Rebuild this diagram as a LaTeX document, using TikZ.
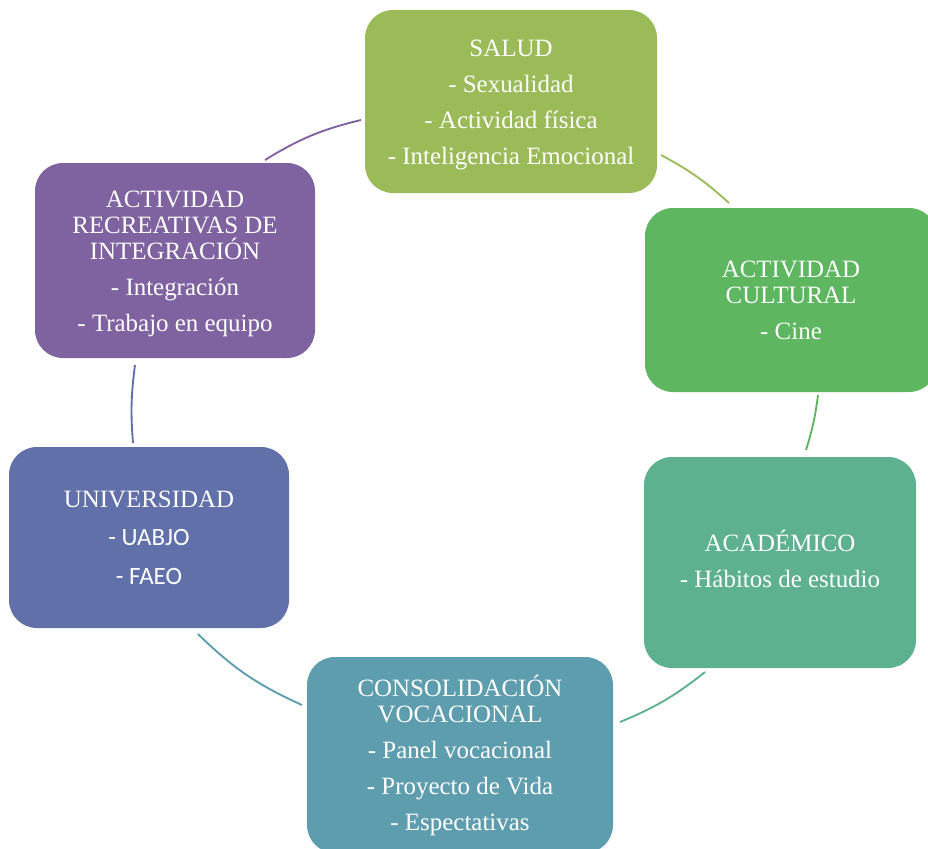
\documentclass[tikz,border=0pt]{standalone}
\usepackage{fontspec}
\setmainfont{Liberation Serif}
\newfontfamily\calibri{Carlito}
\usepackage{tikz}
\usetikzlibrary{positioning}

\definecolor{cSalud}{HTML}{9BBB59}
\definecolor{cCultural}{HTML}{5EB660}
\definecolor{cAcademico}{HTML}{5DB18E}
\definecolor{cConsol}{HTML}{5E9DAD}
\definecolor{cUniv}{HTML}{6170A9}
\definecolor{cRecre}{HTML}{7F63A1}

\begin{document}
\begin{tikzpicture}[x=0.75pt, y=-0.75pt,
    box/.style={fill=#1, rounded corners=21pt, inner sep=0pt, align=center,
      text=white, font=\fontsize{18.7}{19.5}\selectfont},
    link/.style={draw=#1, line width=1.4pt}]
    \clip (0,0) rectangle (928,849);
    % the six boxes of the cycle
    \node[box=cSalud, minimum width=219pt, minimum height=137.25pt] (salud) at (511,101.5)
      {\rule{0pt}{17.5pt}SALUD\\[7.5pt] - Sexualidad\\[7.5pt] - Actividad física\\[7.5pt] - Inteligencia Emocional};
    \node[box=cCultural, minimum width=219pt, minimum height=138pt] (cultural) at (791,300)
      {ACTIVIDAD\\ CULTURAL\\[7.5pt] - Cine};
    \node[box=cAcademico, minimum width=204pt, minimum height=158.25pt] (academico) at (780,562.5)
      {ACADÉMICO\\[7.5pt] - Hábitos de estudio\rule[-6pt]{0pt}{1pt}};
    \node[box=cConsol, minimum width=229.5pt, minimum height=147pt] (consol) at (460,755)
      {CONSOLIDACIÓN\\ VOCACIONAL\\[7.5pt] - Panel vocacional\\[7.5pt] - Proyecto de Vida\\[7.5pt] - Espectativas};
    \node[box=cUniv, minimum width=210pt, minimum height=135.75pt] (univ) at (149,537.5)
      {UNIVERSIDAD\\[9pt] {\calibri - UABJO}\\[9.75pt] {\calibri - FAEO}};
    \node[box=cRecre, minimum width=210pt, minimum height=146.25pt] (recre) at (175,260.5)
      {\rule{0pt}{17.5pt}ACTIVIDAD\\ RECREATIVAS DE\\ INTEGRACIÓN\\[7.5pt] - Integración\\[7.5pt] - Trabajo en equipo};

    % ends of the arcs
    \coordinate (salud-out) at (661,155);
    \coordinate (cultural-in) at (729,203);
    \coordinate (cultural-out) at (818,395);
    \coordinate (academico-in) at (806,450);
    \coordinate (academico-out) at (705,672);
    \coordinate (consol-in) at (620,722);
    \coordinate (consol-out) at (302,705);
    \coordinate (univ-in) at (198,634);
    \coordinate (univ-out) at (133,443);
    \coordinate (recre-in) at (135,365);
    \coordinate (recre-out) at (265,160);
    \coordinate (salud-in) at (361,120);

    \draw[link=cSalud] (salud-out) to[bend left=7] (cultural-in);
    \draw[link=cCultural] (cultural-out) to[bend left=5] (academico-in);
    \draw[link=cAcademico] (academico-out) to[bend left=8] (consol-in);
    \draw[link=cConsol] (consol-out) to[bend left=10] (univ-in);
    \draw[link=cUniv] (univ-out) to[bend left=6] (recre-in);
    \draw[link=cRecre] (recre-out) to[bend left=9] (salud-in);
\end{tikzpicture}
\end{document}
